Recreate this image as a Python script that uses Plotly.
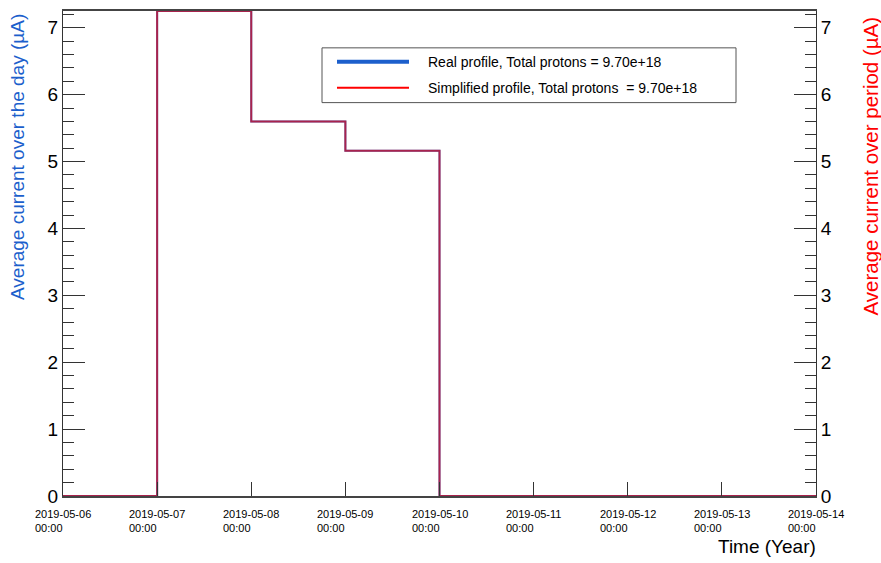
import plotly.graph_objects as go

# Daily bin edges and average beam current per day (µA)
bin_edges = ["2019-05-06", "2019-05-07", "2019-05-08", "2019-05-09", "2019-05-10",
             "2019-05-11", "2019-05-12", "2019-05-13", "2019-05-14"]
real_current = [0.0, 7.25, 5.60, 5.16, 0.0, 0.0, 0.0, 0.0]
simplified_current = [0.0, 7.25, 5.60, 5.16, 0.0, 0.0, 0.0, 0.0]
tick_dates = bin_edges
real_label = "Real profile, Total protons = 9.70e+18"
simp_label = "Simplified profile, Total protons  = 9.70e+18"

FONT = "Liberation Sans, Arial, Helvetica, sans-serif"
BLUE = "#1c5fcc"
RED = "#ff0000"

fig = go.Figure()

# histogram outlines: repeat last value so the final bin closes at the last edge
fig.add_trace(go.Scatter(
    x=bin_edges, y=real_current + real_current[-1:], mode="lines",
    line=dict(color=BLUE, width=2, shape="hv"), showlegend=False))
fig.add_trace(go.Scatter(
    x=bin_edges, y=simplified_current + simplified_current[-1:], mode="lines",
    line=dict(color=RED, width=2, shape="hv"), opacity=0.62, showlegend=False,
    yaxis="y2"))

ymax = 7.25
fig.update_layout(
    width=881, height=563,
    margin=dict(l=63, r=65, t=9, b=67),
    paper_bgcolor="white", plot_bgcolor="white",
    font=dict(family=FONT, color="black"),
    xaxis=dict(
        type="date", range=[bin_edges[0], bin_edges[-1]],
        tickvals=tick_dates, showticklabels=False,
        ticks="inside", ticklen=14, tickcolor="#333", tickwidth=1,
        showline=True, linecolor="#444", linewidth=1.5, mirror=True,
        showgrid=False, zeroline=False,
    ),
    yaxis=dict(
        range=[0, ymax], dtick=1, ticks="inside", ticklen=22, tickcolor="#333",
        minor=dict(ticks="inside", dtick=0.2, ticklen=11, tickcolor="#333"),
        tickfont=dict(size=19), showline=True, linecolor="#333", linewidth=1,
        showgrid=False, zeroline=False,
    ),
    yaxis2=dict(
        range=[0, ymax], dtick=1, overlaying="y", side="right",
        ticks="inside", ticklen=22, tickcolor="#333",
        minor=dict(ticks="inside", dtick=0.2, ticklen=11, tickcolor="#333"),
        tickfont=dict(size=19), showline=True, linecolor="#333", linewidth=1,
        showgrid=False, zeroline=False,
    ),
)

# axis titles, aligned to the top end of each vertical axis
fig.add_annotation(
    x=0, y=1, xref="paper", yref="paper", xanchor="center", yanchor="top",
    xshift=-46, yshift=-1, textangle=-90, showarrow=False,
    text="Average current over the day (µA)",
    font=dict(family=FONT, size=19, color=BLUE))
fig.add_annotation(
    x=1, y=1, xref="paper", yref="paper", xanchor="center", yanchor="top",
    xshift=54, yshift=-4, textangle=-90, showarrow=False,
    text="Average current over period (µA)",
    font=dict(family=FONT, size=20.5, color=RED))

# two-line date labels under each day tick
for d in tick_dates:
    fig.add_annotation(
        x=d, y=0, xref="x", yref="paper", yanchor="top", yshift=-10,
        text=f"{d}<br>00:00", showarrow=False, align="left", xanchor="center",
        font=dict(family=FONT, size=11, color="black"))

fig.add_annotation(
    x=1, y=0, xref="paper", yref="paper", xanchor="right", yanchor="top",
    yshift=-38, xshift=2, text="Time (Year)", showarrow=False,
    font=dict(family=FONT, size=19, color="black"))

# legend box
fig.add_shape(type="rect", xref="paper", yref="paper",
              x0=(322 - 63) / 753, x1=(736 - 63) / 753,
              y0=(496 - 101) / 487, y1=(496 - 46) / 487,
              line=dict(color="#555", width=1), fillcolor="white")
for ypix, color, width, label in [(60, BLUE, 4, real_label), (86, RED, 2, simp_label)]:
    yp = (496 - ypix) / 487
    fig.add_shape(type="line", xref="paper", yref="paper",
                  x0=(337 - 63) / 753, x1=(409 - 63) / 753, y0=yp, y1=yp,
                  line=dict(color=color, width=width))
    fig.add_annotation(x=(426 - 63) / 753, y=yp, xref="paper", yref="paper",
                       xanchor="left", yanchor="middle", text=label, showarrow=False,
                       font=dict(family=FONT, size=14, color="black"))

fig.write_html("out.html")
